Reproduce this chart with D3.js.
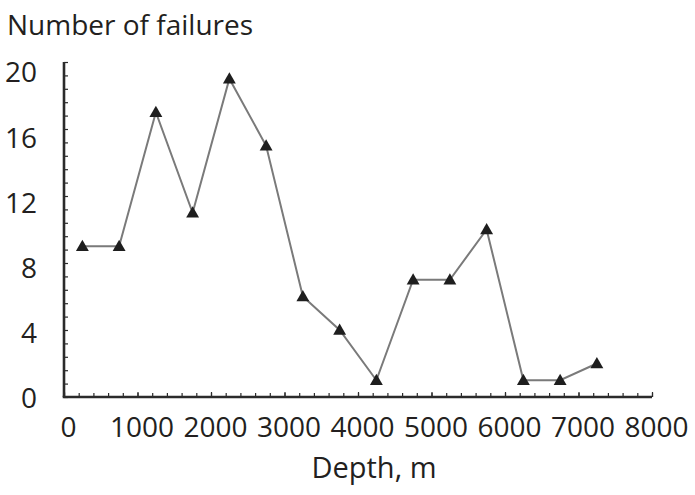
<!DOCTYPE html>
<html>
<head>
<meta charset="utf-8">
<script src="https://cdn.jsdelivr.net/npm/d3@7"></script>
<style>
  html, body { margin: 0; padding: 0; background: #fff; }
  svg { display: block; }
  text { font-family: "Open Sans", "Noto Sans", sans-serif; fill: #231f20; }
</style>
</head>
<body>
<svg id="chart" width="695" height="495"></svg>
<script>
// Data
const depths   = [250, 750, 1250, 1750, 2250, 2750, 3250, 3750, 4250, 4750, 5250, 5750, 6250, 6750, 7250];
const failures = [9, 9, 17, 11, 19, 15, 6, 4, 1, 7, 7, 10, 1, 1, 2];
const xTicks = [0, 1000, 2000, 3000, 4000, 5000, 6000, 7000, 8000];
const yTicks = [0, 4, 8, 12, 16, 20];
const yTitle = "Number of failures";
const xTitle = "Depth, m";

const svg = d3.select("#chart");
const x = d3.scaleLinear().domain([0, 8000]).range([64, 652]);
const y = d3.scaleLinear().domain([0, 20]).range([397, 62]);
// tick labels in the original sit slightly off their ticks
const yLab = d3.scaleLinear().domain([0, 20]).range([398, 72]);

const axisColor = "#2b2b2b";
const fs = 28;

// minor ticks
const xMinor = d3.range(0, 8001, 200);
const yMinor = d3.range(0, 20.01, 0.8);

const gx = svg.append("g").attr("transform", `translate(0,${y(0)})`);
gx.call(d3.axisBottom(x).tickValues(xMinor).tickSize(-4).tickFormat(""))
  .call(g => g.select(".domain").remove());
gx.call(g => g.selectAll("line").attr("stroke", axisColor).attr("stroke-width", 1.2));

const gxMaj = svg.append("g").attr("transform", `translate(0,${y(0)})`);
gxMaj.call(d3.axisBottom(x).tickValues(xTicks).tickSize(-5).tickPadding(0).tickFormat(d3.format("d")))
  .call(g => g.select(".domain").remove());
gxMaj.selectAll("line").attr("stroke", axisColor).attr("stroke-width", 1.2);
gxMaj.selectAll("text")
  .attr("font-size", fs)
  .attr("font-family", "'Open Sans', sans-serif")
  .attr("fill", "#231f20")
  .attr("dy", null)
  .attr("y", 40)
  .attr("x", 4);

const gy = svg.append("g").attr("transform", `translate(${x(0)},0)`);
gy.call(d3.axisLeft(y).tickValues(yMinor).tickSize(-4).tickFormat(""))
  .call(g => g.select(".domain").remove());
gy.selectAll("line").attr("stroke", axisColor).attr("stroke-width", 1.2);

const gyMaj = svg.append("g").attr("transform", `translate(${x(0)},0)`);
gyMaj.call(d3.axisLeft(y).tickValues(yTicks).tickSize(0).tickPadding(27).tickFormat(d3.format("d")))
  .call(g => g.select(".domain").remove());
gyMaj.selectAll(".tick text")
  .attr("font-size", fs)
  .attr("font-family", "'Open Sans', sans-serif")
  .attr("fill", "#231f20")
  .attr("dy", "0.35em")
  .attr("transform", d => `translate(0,${yLab(d) - y(d)})`);

// axis lines
svg.append("line")
  .attr("x1", x(0)).attr("x2", x(0)).attr("y1", y(20)).attr("y2", y(0))
  .attr("stroke", axisColor).attr("stroke-width", 2.6);
svg.append("line")
  .attr("x1", x(0) - 1.3).attr("x2", x(8000)).attr("y1", y(0)).attr("y2", y(0))
  .attr("stroke", axisColor).attr("stroke-width", 2.6);

// line
const line = d3.line().x((d, i) => x(depths[i])).y(d => y(d));
svg.append("path")
  .datum(failures)
  .attr("d", line)
  .attr("fill", "none")
  .attr("stroke", "#7a7a7a")
  .attr("stroke-width", 2);

// markers
svg.append("g").selectAll("path")
  .data(failures)
  .join("path")
  .attr("d", d3.symbol().type(d3.symbolTriangle).size(72))
  .attr("transform", (d, i) => `translate(${x(depths[i])},${y(d) + 1})`)
  .attr("fill", "#1e1e1e");

// titles
svg.append("text")
  .attr("x", 7).attr("y", 35)
  .attr("font-size", fs)
  .text(yTitle);

svg.append("text")
  .attr("x", 374).attr("y", 478)
  .attr("text-anchor", "middle")
  .attr("font-size", fs + 1)
  .text(xTitle);
</script>
</body>
</html>
